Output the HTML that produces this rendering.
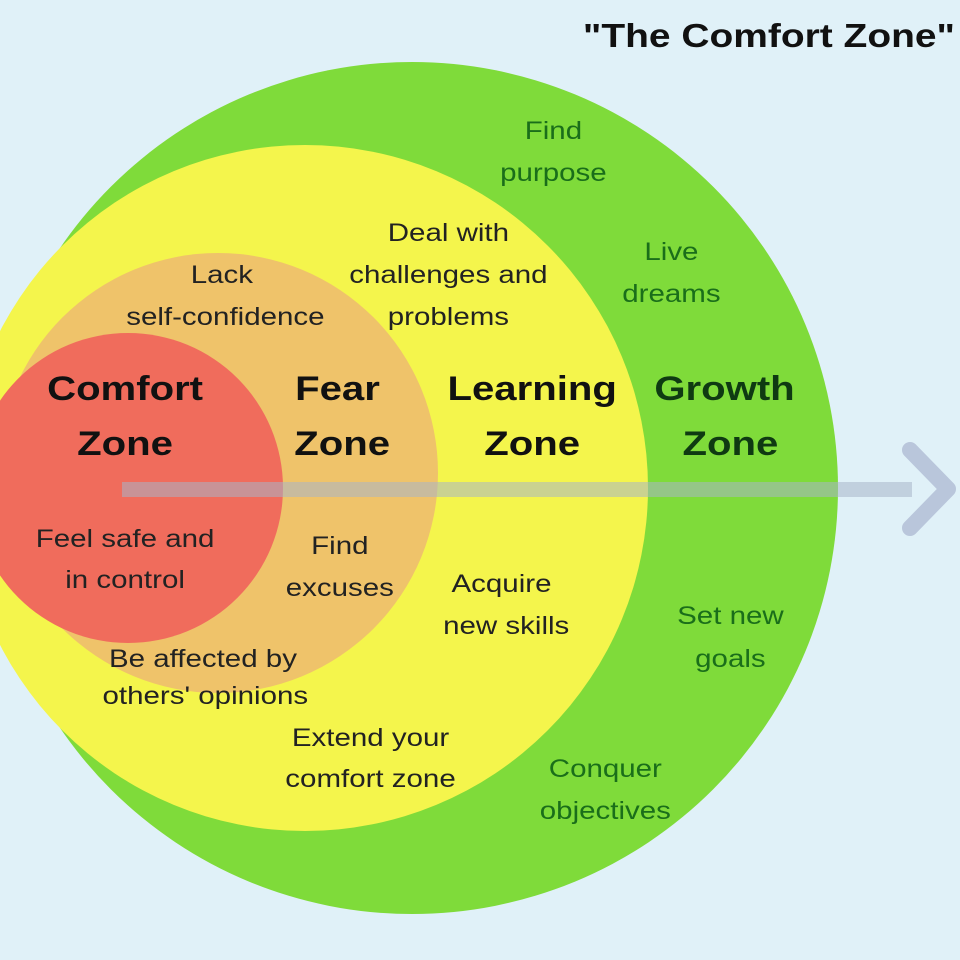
<!DOCTYPE html>
<html><head><meta charset="utf-8"><style>
html,body{margin:0;padding:0;background:#e0f1f8;overflow:hidden}
svg{display:block}
text{font-family:"Liberation Sans",Arial,sans-serif;text-anchor:middle}
</style></head><body>
<svg width="960" height="960" viewBox="0 0 960 960">
<rect width="960" height="960" fill="#e0f1f8"/>
<circle cx="412" cy="488" r="426" fill="#7fdb3a"/>
<circle cx="305" cy="488" r="343" fill="#f4f54c"/>
<circle cx="218" cy="473" r="220" fill="#efc36a"/>
<circle cx="128" cy="488" r="155" fill="#f06c5c"/>
<rect x="122" y="482" width="790" height="15" fill="#a8b4c8" opacity="0.55"/>
<polyline points="910,450 948,489 910,528" fill="none" stroke="#b9c6db" stroke-width="16" stroke-linecap="round" stroke-linejoin="round"/>
<g transform="scale(1.18,1)">
<text x="494" y="47" font-size="33" font-weight="bold" fill="#111" style="text-anchor:start">"The Comfort Zone"</text>
<g font-size="34" font-weight="bold" fill="#111">
<text x="106" y="400">Comfort</text><text x="106" y="455">Zone</text>
<text x="286" y="400">Fear</text><text x="290" y="455">Zone</text>
<text x="451" y="400">Learning</text><text x="451" y="455">Zone</text>
<text x="614" y="400" fill="#0f3a12">Growth</text><text x="619" y="455" fill="#0f3a12">Zone</text>
</g>
<g font-size="25" fill="#222">
<text x="188" y="283">Lack</text><text x="191" y="325">self-confidence</text>
<text x="380" y="241">Deal with</text><text x="380" y="283">challenges and</text><text x="380" y="325">problems</text>
<text x="106" y="547">Feel safe and</text><text x="106" y="588">in control</text>
<text x="288" y="554">Find</text><text x="288" y="596">excuses</text>
<text x="425" y="592">Acquire</text><text x="429" y="634">new skills</text>
<text x="172" y="667">Be affected by</text><text x="174" y="704">others' opinions</text>
<text x="314" y="746">Extend your</text><text x="314" y="787">comfort zone</text>
</g>
<g font-size="25" fill="#1a6e1a">
<text x="469" y="139">Find</text><text x="469" y="181">purpose</text>
<text x="569" y="260">Live</text><text x="569" y="302">dreams</text>
<text x="619" y="624">Set new</text><text x="619" y="667">goals</text>
<text x="513" y="777">Conquer</text><text x="513" y="819">objectives</text>
</g>
</g>
</svg>
</body></html>
